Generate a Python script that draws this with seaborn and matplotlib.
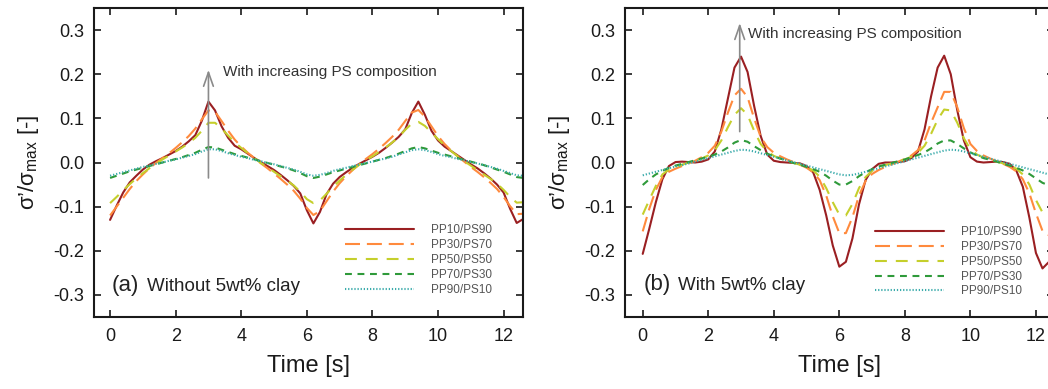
import numpy as np
import pandas as pd
import matplotlib.pyplot as plt
import seaborn as sns

sns.set_style("ticks")
plt.rcParams['font.family'] = ['Liberation Sans', 'DejaVu Sans']
plt.rcParams['mathtext.fontset'] = 'custom'
plt.rcParams['mathtext.rm'] = 'Liberation Sans'
plt.rcParams['mathtext.it'] = 'Liberation Sans:italic'
plt.rcParams['axes.unicode_minus'] = False

# time grid [s], 0 to 12.6 every 0.2 s
time_s = np.round(np.arange(0, 12.61, 0.2), 1)

blends = ['PP10/PS90', 'PP30/PS70', 'PP50/PS50', 'PP70/PS30', 'PP90/PS10']
colors = ['#9a1f22', '#ff8a3d', '#c5cf2c', '#2f9a3a', '#3aabab']
dash_styles = ['', (7.2, 3.3), (5.7, 4.3), (3.3, 2.7), (0.6, 0.9)]

# (a) without clay
a_pp10 = [-0.130, -0.098, -0.068, -0.045, -0.030, -0.016, -0.005, 0.003, 0.010, 0.018,
          0.026, 0.036, 0.048, 0.062, 0.095, 0.138, 0.118, 0.082, 0.056, 0.038,
          0.030, 0.020, 0.010, 0.001, -0.008, -0.017, -0.028, -0.040, -0.053, -0.070,
          -0.108, -0.138, -0.112, -0.072, -0.048, -0.033, -0.022, -0.012, -0.003, 0.005,
          0.013, 0.022, 0.033, 0.045, 0.058, 0.075, 0.112, 0.138, 0.108, 0.072,
          0.050, 0.036, 0.026, 0.016, 0.006, -0.004, -0.013, -0.024, -0.036, -0.050,
          -0.068, -0.105, -0.137, -0.128]
a_pp30 = [-0.120, -0.100, -0.080, -0.060, -0.042, -0.027, -0.013, -0.001, 0.010, 0.021,
          0.033, 0.046, 0.060, 0.077, 0.098, 0.118, 0.115, 0.094, 0.072, 0.052,
          0.036, 0.022, 0.010, -0.002, -0.013, -0.025, -0.037, -0.050, -0.064, -0.082,
          -0.103, -0.119, -0.110, -0.088, -0.066, -0.047, -0.031, -0.017, -0.004, 0.008,
          0.019, 0.031, 0.044, 0.058, 0.074, 0.094, 0.113, 0.119, 0.104, 0.082,
          0.060, 0.042, 0.027, 0.014, 0.002, -0.010, -0.021, -0.033, -0.046, -0.060,
          -0.078, -0.099, -0.117, -0.116]
a_pp50 = [-0.092, -0.078, -0.063, -0.049, -0.036, -0.024, -0.013, -0.003, 0.007, 0.016,
          0.025, 0.034, 0.044, 0.056, 0.072, 0.090, 0.090, 0.077, 0.061, 0.046,
          0.033, 0.021, 0.010, -0.001, -0.011, -0.021, -0.031, -0.041, -0.052, -0.066,
          -0.083, -0.092, -0.086, -0.071, -0.055, -0.041, -0.028, -0.016, -0.005, 0.005,
          0.014, 0.024, 0.034, 0.045, 0.058, 0.074, 0.088, 0.092, 0.083, 0.068,
          0.053, 0.039, 0.026, 0.014, 0.003, -0.007, -0.017, -0.027, -0.037, -0.048,
          -0.062, -0.078, -0.091, -0.090]
a_pp70 = [-0.035, -0.030, -0.025, -0.020, -0.016, -0.012, -0.008, -0.004, 0.000, 0.004,
          0.008, 0.012, 0.017, 0.022, 0.029, 0.035, 0.034, 0.029, 0.024, 0.019,
          0.015, 0.011, 0.007, 0.003, -0.001, -0.005, -0.009, -0.013, -0.018, -0.024,
          -0.031, -0.035, -0.032, -0.027, -0.022, -0.018, -0.014, -0.010, -0.006, -0.002,
          0.002, 0.006, 0.010, 0.015, 0.020, 0.026, 0.032, 0.035, 0.032, 0.027,
          0.022, 0.018, 0.014, 0.010, 0.006, 0.002, -0.002, -0.006, -0.011, -0.016,
          -0.021, -0.027, -0.033, -0.035]
a_pp90 = [-0.030, -0.026, -0.022, -0.018, -0.014, -0.010, -0.007, -0.003, 0.000, 0.004,
          0.007, 0.011, 0.015, 0.019, 0.025, 0.030, 0.030, 0.026, 0.021, 0.017,
          0.013, 0.010, 0.006, 0.003, -0.001, -0.004, -0.008, -0.012, -0.016, -0.021,
          -0.027, -0.030, -0.028, -0.024, -0.019, -0.015, -0.012, -0.008, -0.005, -0.001,
          0.002, 0.006, 0.009, 0.013, 0.018, 0.023, 0.028, 0.030, 0.028, 0.024,
          0.019, 0.015, 0.012, 0.008, 0.005, 0.001, -0.002, -0.006, -0.010, -0.014,
          -0.019, -0.024, -0.029, -0.030]

# (b) with 5wt% clay
b_pp10 = [-0.207, -0.150, -0.090, -0.038, -0.008, 0.001, 0.002, 0.001, 0.000, 0.002,
          0.007, 0.025, 0.075, 0.145, 0.215, 0.240, 0.205, 0.128, 0.060, 0.018,
          0.004, 0.001, 0.000, -0.001, -0.002, -0.008, -0.022, -0.062, -0.120, -0.188,
          -0.236, -0.225, -0.172, -0.095, -0.040, -0.015, -0.003, 0.000, 0.000, 0.001,
          0.003, 0.010, 0.025, 0.075, 0.150, 0.215, 0.242, 0.200, 0.118, 0.050,
          0.012, 0.002, 0.000, 0.001, 0.002, 0.001, -0.003, -0.018, -0.055, -0.125,
          -0.205, -0.240, -0.225, -0.170]
b_pp30 = [-0.156, -0.105, -0.062, -0.033, -0.021, -0.014, -0.008, -0.002, 0.004, 0.012,
          0.022, 0.038, 0.070, 0.113, 0.152, 0.167, 0.148, 0.100, 0.058, 0.035,
          0.022, 0.014, 0.007, 0.001, -0.005, -0.012, -0.022, -0.040, -0.075, -0.122,
          -0.160, -0.160, -0.124, -0.075, -0.042, -0.026, -0.017, -0.010, -0.004, 0.002,
          0.008, 0.016, 0.028, 0.050, 0.090, 0.125, 0.160, 0.160, 0.125, 0.078,
          0.042, 0.026, 0.016, 0.009, 0.003, -0.003, -0.010, -0.020, -0.038, -0.070,
          -0.115, -0.155, -0.165, -0.140]
b_pp50 = [-0.118, -0.085, -0.053, -0.027, -0.016, -0.010, -0.005, 0.000, 0.004, 0.009,
          0.016, 0.028, 0.050, 0.080, 0.108, 0.123, 0.108, 0.072, 0.042, 0.025,
          0.015, 0.009, 0.004, -0.001, -0.005, -0.010, -0.018, -0.032, -0.058, -0.090,
          -0.118, -0.120, -0.094, -0.058, -0.033, -0.019, -0.012, -0.006, -0.002, 0.002,
          0.007, 0.013, 0.022, 0.038, 0.065, 0.097, 0.120, 0.118, 0.090, 0.055,
          0.030, 0.018, 0.011, 0.006, 0.002, -0.002, -0.007, -0.014, -0.027, -0.050,
          -0.085, -0.113, -0.123, -0.105]
b_pp70 = [-0.051, -0.038, -0.027, -0.019, -0.012, -0.007, -0.003, 0.001, 0.005, 0.009,
          0.013, 0.018, 0.025, 0.034, 0.045, 0.051, 0.047, 0.037, 0.028, 0.020,
          0.014, 0.009, 0.004, -0.001, -0.005, -0.010, -0.015, -0.021, -0.030, -0.041,
          -0.050, -0.050, -0.042, -0.031, -0.022, -0.015, -0.009, -0.005, -0.001, 0.003,
          0.007, 0.012, 0.017, 0.023, 0.032, 0.043, 0.050, 0.050, 0.042, 0.032,
          0.023, 0.016, 0.010, 0.006, 0.002, -0.003, -0.007, -0.012, -0.018, -0.026,
          -0.036, -0.046, -0.052, -0.048]
b_pp90 = [-0.029, -0.025, -0.021, -0.017, -0.013, -0.009, -0.006, -0.002, 0.002, 0.006,
          0.010, 0.014, 0.018, 0.022, 0.026, 0.029, 0.028, 0.025, 0.021, 0.017,
          0.013, 0.009, 0.005, 0.001, -0.003, -0.007, -0.011, -0.015, -0.019, -0.023,
          -0.027, -0.029, -0.028, -0.025, -0.021, -0.017, -0.013, -0.009, -0.005, -0.001,
          0.003, 0.007, 0.011, 0.015, 0.019, 0.023, 0.027, 0.029, 0.028, 0.025,
          0.021, 0.017, 0.013, 0.009, 0.005, 0.001, -0.003, -0.007, -0.011, -0.015,
          -0.019, -0.023, -0.027, -0.029]

panels = [
    dict(curves=[a_pp10, a_pp30, a_pp50, a_pp70, a_pp90], tag='(a)', tag_text='Without 5wt% clay',
         pos=[0.0897, 0.1851, 0.4096, 0.7943], xlim=(-0.49, 12.6),
         arrow_x=3.0, arrow_y=(-0.035, 0.21), note_xy=(3.44, 0.206),
         tag_x=(0.06, 1.12), tag_y=-0.29, leg_xy=(0.585, 0.30)),
    dict(curves=[b_pp10, b_pp30, b_pp50, b_pp70, b_pp90], tag='(b)', tag_text='With 5wt% clay',
         pos=[0.5964, 0.1851, 0.4096, 0.7943], xlim=(-0.54, 12.56),
         arrow_x=2.96, arrow_y=(0.07, 0.316), note_xy=(3.22, 0.29),
         tag_x=(0.02, 1.09), tag_y=-0.288, leg_xy=(0.583, 0.294)),
]

fig = plt.figure(figsize=(10.48, 3.89), dpi=100)

for p in panels:
    ax = fig.add_axes(p['pos'])
    df = pd.DataFrame({
        'Time': np.tile(time_s, len(blends)),
        'ratio': np.concatenate(p['curves']),
        'blend': np.repeat(blends, len(time_s)),
    })
    sns.lineplot(data=df, x='Time', y='ratio', hue='blend', style='blend',
                 hue_order=blends, style_order=blends,
                 palette=dict(zip(blends, colors)), dashes=dict(zip(blends, dash_styles)),
                 estimator=None, linewidth=1.5, ax=ax)

    ax.set_xlim(*p['xlim'])
    ax.set_ylim(-0.35, 0.35)
    ax.set_xticks(range(0, 13, 2))
    ax.set_yticks([-0.3, -0.2, -0.1, 0.0, 0.1, 0.2, 0.3])
    ax.set_yticklabels(['-0.3', '-0.2', '-0.1', '0.0', '0.1', '0.2', '0.3'])
    ax.tick_params(direction='in', length=5, width=1.2, top=True, right=True,
                   labelsize=13, colors='#1a1a1a')
    ax.tick_params(axis='x', pad=8)
    ax.tick_params(axis='y', pad=7)
    for s in ax.spines.values():
        s.set_linewidth(1.5)
        s.set_color('#1a1a1a')

    ax.set_xlabel('Time [s]', fontsize=17, labelpad=7, color='#1a1a1a')
    ax.set_ylabel('σ’/σ$_{\\mathrm{max}}$ [-]', fontsize=16, labelpad=9, color='#1a1a1a')

    # arrow + note
    ax.annotate('', xy=(p['arrow_x'], p['arrow_y'][1]), xytext=(p['arrow_x'], p['arrow_y'][0]),
                arrowprops=dict(arrowstyle='->,head_length=1.0,head_width=0.35',
                                color='#8a8a8a', lw=1.2, shrinkA=0, shrinkB=0))
    ax.text(p['note_xy'][0], p['note_xy'][1], 'With increasing PS composition',
            fontsize=11, va='center', color='#333333')

    ax.text(p['tag_x'][0], p['tag_y'], p['tag'], fontsize=16, va='baseline', color='#222222')
    ax.text(p['tag_x'][1], p['tag_y'], p['tag_text'], fontsize=13.5, va='baseline', color='#222222')

    handles, labels = ax.get_legend_handles_labels()
    ax.legend(handles, labels, loc='upper left', bbox_to_anchor=p['leg_xy'], frameon=False,
              fontsize=8.5, labelcolor='#555555', handlelength=5.8, handletextpad=1.5,
              labelspacing=0.24, borderpad=0, borderaxespad=0)

fig.savefig('out.png', dpi=100)
